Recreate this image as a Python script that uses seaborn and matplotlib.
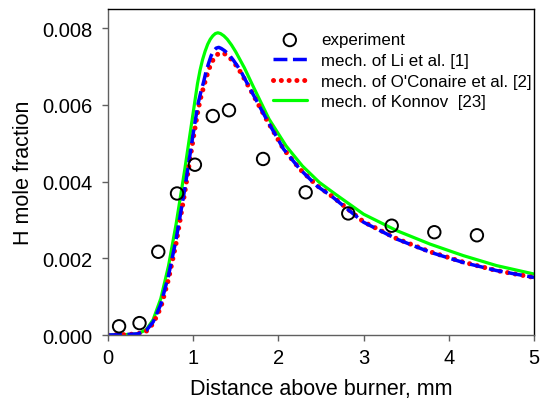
import matplotlib
matplotlib.use("Agg")
import matplotlib.pyplot as plt
import seaborn as sns

# ---- data ----
exp_x = [0.13, 0.37, 0.59, 0.81, 1.02, 1.23, 1.42, 1.82, 2.32, 2.82, 3.33, 3.83, 4.33]
exp_y = [0.000227, 0.00031, 0.00217, 0.00369, 0.00444, 0.00571, 0.00586, 0.00459,
         0.00372, 0.00317, 0.00285, 0.00268, 0.0026]

li_x = [0, 0.2, 0.35, 0.45, 0.53, 0.62, 0.71, 0.8, 0.9, 0.96, 1.01, 1.06, 1.09, 1.12,
        1.15, 1.18, 1.21, 1.24, 1.27, 1.30, 1.33, 1.37, 1.42, 1.47, 1.52, 1.57, 1.67,
        1.86, 2.06, 2.25, 2.45, 2.64, 3.0, 3.39, 3.78, 4.17, 4.56, 5.0]
li_y = [0, 0.00001, 0.00003, 0.00012, 0.00034, 0.0008, 0.00155, 0.0025, 0.0038,
        0.00467, 0.0054, 0.00606, 0.00634, 0.00658, 0.00686, 0.00708, 0.00728,
        0.00741, 0.00748, 0.0075, 0.00747, 0.00741, 0.00731, 0.00717, 0.00701,
        0.00683, 0.00641, 0.00563, 0.00485, 0.00433, 0.00389, 0.00359, 0.00294,
        0.0025, 0.00216, 0.00189, 0.00168, 0.0015]

oc_x = li_x
oc_y = [0, 0.00001, 0.00003, 0.0001, 0.0003, 0.00072, 0.00145, 0.0024, 0.0037,
        0.00455, 0.00525, 0.0059, 0.0062, 0.00645, 0.00669, 0.0069, 0.00708,
        0.0072, 0.00729, 0.00734, 0.00736, 0.00733, 0.00725, 0.00713, 0.00698,
        0.0068, 0.0064, 0.00562, 0.00485, 0.00433, 0.0039, 0.0036, 0.00295,
        0.00251, 0.00217, 0.0019, 0.00168, 0.0015]

ko_x = [0, 0.2, 0.35, 0.45, 0.53, 0.62, 0.71, 0.8, 0.9, 0.96, 1.02, 1.05, 1.08, 1.11,
        1.14, 1.17, 1.2, 1.23, 1.26, 1.29, 1.32, 1.36, 1.4, 1.45, 1.5, 1.6, 1.7,
        1.89, 2.09, 2.28, 2.48, 2.67, 3.0, 3.39, 3.78, 4.17, 4.56, 5.0]
ko_y = [0, 0.00001, 0.00003, 0.00014, 0.0004, 0.00095, 0.0018, 0.0029, 0.0043,
        0.0052, 0.0061, 0.00655, 0.0069, 0.00718, 0.0074, 0.00758, 0.00771, 0.0078,
        0.00786, 0.00788, 0.00786, 0.0078, 0.00771, 0.00756, 0.00738, 0.00697,
        0.0065, 0.00563, 0.00493, 0.00441, 0.00398, 0.00367, 0.00315, 0.00272,
        0.00237, 0.00207, 0.00181, 0.00159]

labels = ["experiment", "mech. of Li et al. [1]", "mech. of O'Conaire et al. [2]",
          "mech. of Konnov  [23]"]
x_ticks = [0, 1, 2, 3, 4, 5]
y_ticks = [0.0, 0.002, 0.004, 0.006, 0.008]

# ---- style ----
sns.set_theme(style="white")
plt.rcParams["font.family"] = ["Liberation Sans", "DejaVu Sans"]

fig = plt.figure(figsize=(5.42, 4.14), dpi=100)
ax = fig.add_axes([108 / 542, 1 - 336 / 414, 426 / 542, 326 / 414])

sns.lineplot(x=ko_x, y=ko_y, ax=ax, color="#00ff00", lw=2.3, label=labels[3],
             estimator=None, sort=False)
sns.lineplot(x=oc_x, y=oc_y, ax=ax, color="#ff0000", lw=3.6, label=labels[2],
             estimator=None, sort=False)
sns.lineplot(x=li_x, y=li_y, ax=ax, color="#0000ff", lw=2.5, label=labels[1],
             estimator=None, sort=False)
sns.scatterplot(x=exp_x, y=exp_y, ax=ax, marker="o", s=80, facecolors="none",
                edgecolor="black", linewidth=1.4, label=labels[0], zorder=5)

lines = ax.get_lines()
lines[1].set_linestyle((0, (0.01, 1.55)))
lines[1].set_dash_capstyle("round")
lines[2].set_linestyle((0, (4, 1.6)))
lines[2].set_dash_capstyle("butt")

ax.set_xlim(0, 5)
ax.set_ylim(0, 0.0085)
ax.set_xticks(x_ticks)
ax.set_yticks(y_ticks)
ax.set_xticklabels([str(v) for v in x_ticks])
ax.set_yticklabels([f"{v:.3f}" for v in y_ticks])
ax.tick_params(axis="both", which="major", direction="out", length=4, width=1,
               color="#606060", labelsize=14.5, left=True, bottom=True,
               labelcolor="black")
ax.tick_params(axis="x", pad=5)
ax.tick_params(axis="y", pad=7.5)
ax.set_xlabel("Distance above burner, mm", fontsize=15.5, labelpad=8, color="black")
ax.set_ylabel("H mole fraction", fontsize=15.5, labelpad=5.5, color="black")

for side in ["left", "bottom"]:
    ax.spines[side].set_color("#606060")
    ax.spines[side].set_linewidth(1.0)
for side in ["top", "right"]:
    ax.spines[side].set_color("black")
    ax.spines[side].set_linewidth(1.0)

handles, labs = ax.get_legend_handles_labels()
order = [labs.index(l) for l in labels]
leg = ax.legend([handles[i] for i in order], [labs[i] for i in order],
                loc="upper left", bbox_to_anchor=(0.387, 0.928), frameon=False,
                fontsize=12.2, borderpad=0, borderaxespad=0, labelspacing=0.33,
                handlelength=2.0, handletextpad=0.85)
for t in leg.get_texts():
    t.set_color("black")

fig.savefig("out.png", dpi=100)
